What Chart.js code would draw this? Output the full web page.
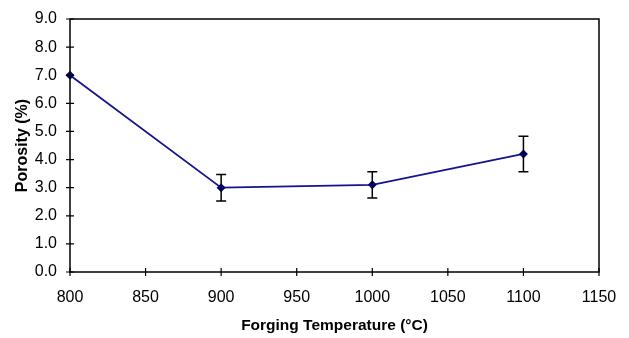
<!DOCTYPE html>
<html>
<head>
<meta charset="utf-8">
<script src="https://cdn.jsdelivr.net/npm/chart.js@4"></script>
<style>
html,body{margin:0;padding:0;background:#fff;}
#wrap{width:629px;height:338px;}
</style>
</head>
<body>
<div id="wrap"><canvas id="c" width="629" height="338"></canvas></div>
<script>
const temperatures = [800, 900, 1000, 1100];
const porosity = [7.0, 3.0, 3.1, 4.2];
const porosityError = [0, 0.47, 0.47, 0.63];
const xTitle = 'Forging Temperature (°C)';
const yTitle = 'Porosity (%)';

const framePlugin = {
  id: 'frame',
  afterDraw(chart) {
    const {ctx, chartArea: a, scales} = chart;
    ctx.save();
    ctx.strokeStyle = '#000';
    ctx.lineWidth = 1.5;
    ctx.strokeRect(a.left, a.top, a.right - a.left, a.bottom - a.top);
    ctx.lineWidth = 1.2;
    ctx.beginPath();
    scales.x.ticks.forEach(t => {
      const x = scales.x.getPixelForValue(t.value);
      ctx.moveTo(x, a.bottom - 4); ctx.lineTo(x, a.bottom + 4);
    });
    scales.y.ticks.forEach(t => {
      const y = scales.y.getPixelForValue(t.value);
      ctx.moveTo(a.left - 4, y); ctx.lineTo(a.left + 4, y);
    });
    ctx.stroke();
    ctx.restore();
  }
};

const errorBarPlugin = {
  id: 'errorBars',
  afterDatasetsDraw(chart) {
    const {ctx, scales} = chart;
    ctx.save();
    ctx.strokeStyle = '#000';
    ctx.lineWidth = 1.5;
    temperatures.forEach((t, i) => {
      const e = porosityError[i];
      if (!e) return;
      const x = scales.x.getPixelForValue(t);
      const y1 = scales.y.getPixelForValue(porosity[i] + e);
      const y2 = scales.y.getPixelForValue(porosity[i] - e);
      ctx.beginPath();
      ctx.moveTo(x, y1); ctx.lineTo(x, y2);
      ctx.moveTo(x - 5, y1); ctx.lineTo(x + 5, y1);
      ctx.moveTo(x - 5, y2); ctx.lineTo(x + 5, y2);
      ctx.stroke();
    });
    ctx.restore();
  }
};

new Chart(document.getElementById('c'), {
  type: 'scatter',
  data: {
    datasets: [{
      data: temperatures.map((t, i) => ({x: t, y: porosity[i]})),
      showLine: true,
      borderColor: '#14148f',
      backgroundColor: '#000080',
      borderWidth: 1.8,
      pointStyle: 'rectRot',
      pointRadius: 4.5,
      pointBorderWidth: 0,
      clip: false
    }]
  },
  options: {
    responsive: false,
    animation: false,
    layout: {autoPadding: false, padding: {left: 0, right: 30, top: 19, bottom: 0}},
    plugins: {legend: {display: false}, tooltip: {enabled: false}},
    scales: {
      x: {
        type: 'linear', min: 800, max: 1150,
        afterFit(s) { s.height = 66; },
        grid: {display: false},
        border: {display: false},
        ticks: {stepSize: 50, padding: 8, color: '#000', font: {family: 'Liberation Sans', size: 16},
                callback: v => String(v)},
        title: {display: true, text: xTitle, color: '#000', padding: {top: 0, bottom: 3},
                font: {family: 'Liberation Sans', size: 15.5, weight: 'bold'}}
      },
      y: {
        min: 0, max: 9,
        afterFit(s) { s.width = 70; },
        grid: {display: true, drawOnChartArea: false, drawTicks: true, tickLength: 13, tickColor: 'rgba(0,0,0,0)', color: 'rgba(0,0,0,0)'},
        border: {display: false},
        ticks: {stepSize: 1, padding: 0, color: '#000', font: {family: 'Liberation Sans', size: 16},
                callback: v => v.toFixed(1)},
        title: {display: true, text: yTitle, color: '#000', padding: {top: 13, bottom: 0},
                font: {family: 'Liberation Sans', size: 16, weight: 'bold'}}
      }
    }
  },
  plugins: [framePlugin, errorBarPlugin]
});
</script>
</body>
</html>
